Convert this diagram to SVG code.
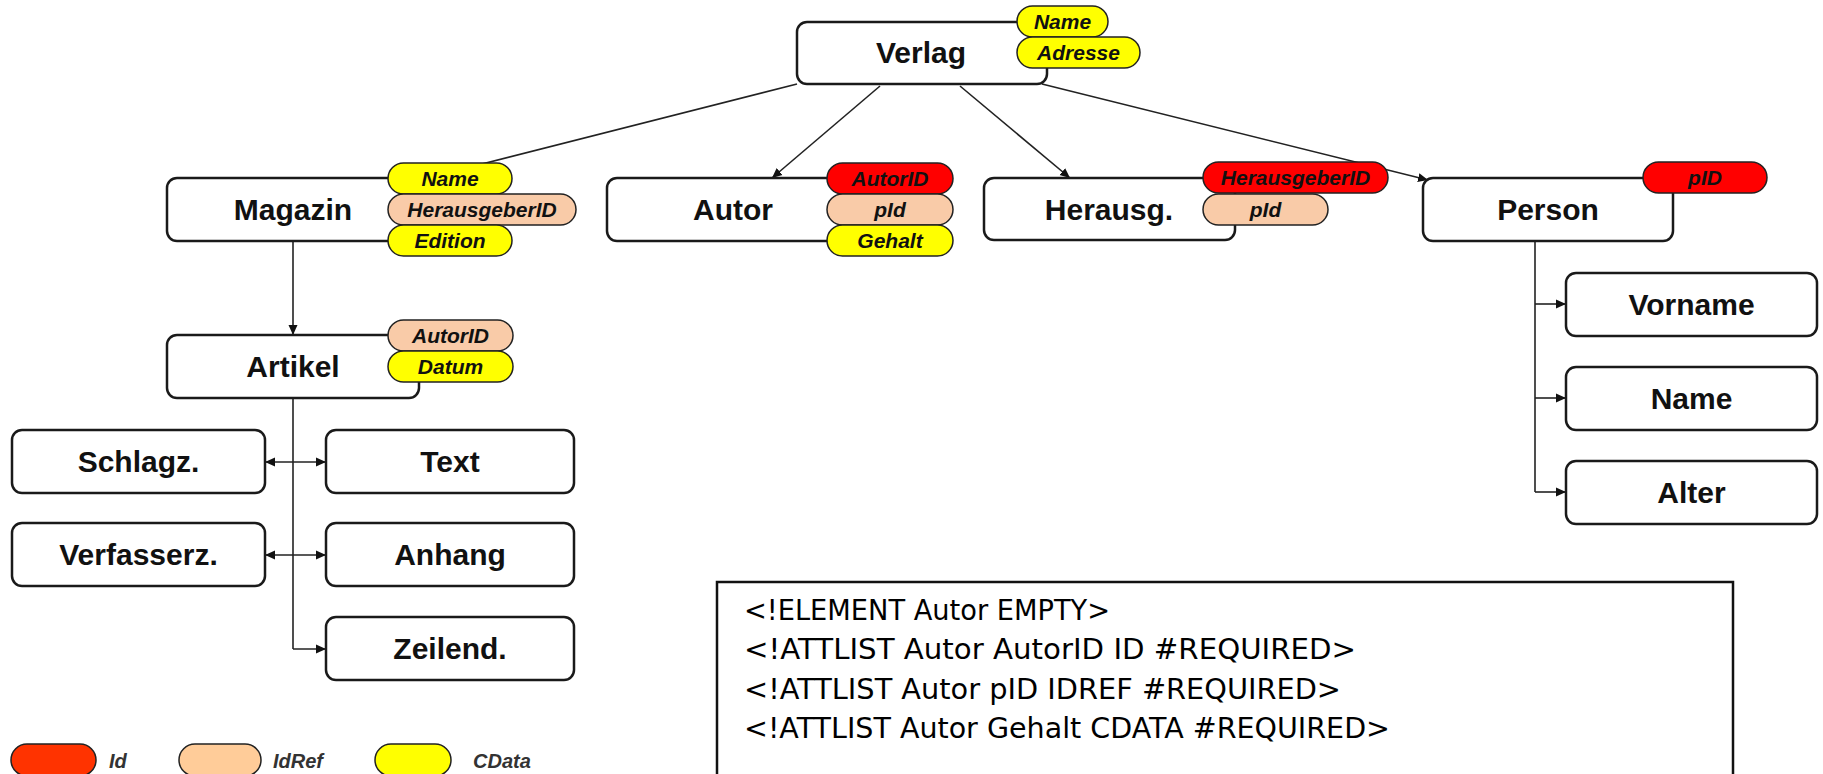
<svg xmlns="http://www.w3.org/2000/svg" width="1823" height="774" viewBox="0 0 1823 774">
  <defs>
    <marker id="arr" viewBox="0 0 10 10" refX="10" refY="5" markerWidth="10" markerHeight="10" markerUnits="userSpaceOnUse" orient="auto-start-reverse">
      <path d="M0,0.5 L10,5 L0,9.5 z" fill="#111"/>
    </marker>
  </defs>
  <style>
    .box { fill: #fff; stroke: #1a1a1a; stroke-width: 2.5; }
    .lbl { font-family: "Liberation Sans", Arial, sans-serif; font-weight: bold; font-size: 30px; fill: #111; text-anchor: middle; }
    .pill { stroke: #222; stroke-width: 1.5; }
    .id { fill: #ff0000; }
    .ref { fill: #f9cba8; }
    .cd { fill: #ffff00; }
    .ptx { font-family: "Liberation Sans", Arial, sans-serif; font-weight: bold; font-style: italic; font-size: 21px; fill: #111; text-anchor: middle; }
    .con { fill: none; stroke: #222; stroke-width: 1.6; }
    .dtd { font-family: "DejaVu Sans", "DejaVu Sans Condensed", sans-serif; font-size: 28px; fill: #000; }
    .leg { font-family: "Liberation Sans", Arial, sans-serif; font-weight: bold; font-style: italic; font-size: 20px; fill: #333; }
  </style>

  <!-- connectors -->
  <g id="connectors">
    <line class="con" x1="797" y1="84" x2="427" y2="178" marker-end="url(#arr)"/>
    <line class="con" x1="880" y1="86" x2="772" y2="178" marker-end="url(#arr)"/>
    <line class="con" x1="960" y1="86" x2="1070" y2="178" marker-end="url(#arr)"/>
    <line class="con" x1="1042" y1="84" x2="1428" y2="180" marker-end="url(#arr)"/>
    <line class="con" x1="293" y1="241" x2="293" y2="335" marker-end="url(#arr)"/>
    <line class="con" x1="293" y1="398" x2="293" y2="649"/>
    <line class="con" x1="293" y1="649" x2="326" y2="649" marker-end="url(#arr)"/>
    <line class="con" x1="265" y1="462" x2="326" y2="462" marker-start="url(#arr)" marker-end="url(#arr)"/>
    <line class="con" x1="265" y1="555" x2="326" y2="555" marker-start="url(#arr)" marker-end="url(#arr)"/>
    <line class="con" x1="1535" y1="241" x2="1535" y2="492"/>
    <line class="con" x1="1535" y1="304" x2="1566" y2="304" marker-end="url(#arr)"/>
    <line class="con" x1="1535" y1="398" x2="1566" y2="398" marker-end="url(#arr)"/>
    <line class="con" x1="1535" y1="492" x2="1566" y2="492" marker-end="url(#arr)"/>
  </g>

  <g id="verlag">
    <rect class="box" x="797" y="22" width="250" height="62" rx="10"/>
    <text class="lbl" x="921" y="63">Verlag</text>
    <rect class="pill cd" x="1017" y="6" width="91" height="31" rx="15.5"/>
    <text class="ptx" x="1062.5" y="29">Name</text>
    <rect class="pill cd" x="1017" y="37" width="123" height="31" rx="15.5"/>
    <text class="ptx" x="1078.5" y="60">Adresse</text>
  </g>

  <g id="magazin">
    <rect class="box" x="167" y="178" width="252" height="63" rx="10"/>
    <text class="lbl" x="293" y="220">Magazin</text>
    <rect class="pill cd" x="388" y="163" width="124" height="31" rx="15.5"/>
    <text class="ptx" x="450" y="186">Name</text>
    <rect class="pill ref" x="388" y="194" width="188" height="31" rx="15.5"/>
    <text class="ptx" x="482" y="217">HerausgeberID</text>
    <rect class="pill cd" x="388" y="225" width="124" height="31" rx="15.5"/>
    <text class="ptx" x="450" y="248">Edition</text>
  </g>

  <g id="autor">
    <rect class="box" x="607" y="178" width="252" height="63" rx="10"/>
    <text class="lbl" x="733" y="220">Autor</text>
    <rect class="pill id" x="827" y="163" width="126" height="31" rx="15.5"/>
    <text class="ptx" x="890" y="186">AutorID</text>
    <rect class="pill ref" x="827" y="194" width="126" height="31" rx="15.5"/>
    <text class="ptx" x="890" y="217">pId</text>
    <rect class="pill cd" x="827" y="225" width="126" height="31" rx="15.5"/>
    <text class="ptx" x="890" y="248">Gehalt</text>
  </g>

  <g id="herausg">
    <rect class="box" x="984" y="178" width="251" height="62" rx="10"/>
    <text class="lbl" x="1109" y="220">Herausg.</text>
    <rect class="pill id" x="1203" y="162" width="185" height="31" rx="15.5"/>
    <text class="ptx" x="1295.5" y="185">HerausgeberID</text>
    <rect class="pill ref" x="1203" y="194" width="125" height="31" rx="15.5"/>
    <text class="ptx" x="1265.5" y="217">pId</text>
  </g>

  <g id="person">
    <rect class="box" x="1423" y="178" width="250" height="63" rx="10"/>
    <text class="lbl" x="1548" y="220">Person</text>
    <rect class="pill id" x="1643" y="162" width="124" height="31" rx="15.5"/>
    <text class="ptx" x="1705" y="185">pID</text>
  </g>

  <g id="artikel">
    <rect class="box" x="167" y="335" width="252" height="63" rx="10"/>
    <text class="lbl" x="293" y="377">Artikel</text>
    <rect class="pill ref" x="388" y="320" width="125" height="31" rx="15.5"/>
    <text class="ptx" x="450.5" y="343">AutorID</text>
    <rect class="pill cd" x="388" y="351" width="125" height="31" rx="15.5"/>
    <text class="ptx" x="450.5" y="374">Datum</text>
  </g>

  <g id="schlagz">
    <rect class="box" x="12" y="430" width="253" height="63" rx="10"/>
    <text class="lbl" x="138.5" y="472">Schlagz.</text>
  </g>
  <g id="text">
    <rect class="box" x="326" y="430" width="248" height="63" rx="10"/>
    <text class="lbl" x="450" y="472">Text</text>
  </g>
  <g id="verfasserz">
    <rect class="box" x="12" y="523" width="253" height="63" rx="10"/>
    <text class="lbl" x="138.5" y="565">Verfasserz.</text>
  </g>
  <g id="anhang">
    <rect class="box" x="326" y="523" width="248" height="63" rx="10"/>
    <text class="lbl" x="450" y="565">Anhang</text>
  </g>
  <g id="zeilend">
    <rect class="box" x="326" y="617" width="248" height="63" rx="10"/>
    <text class="lbl" x="450" y="659">Zeilend.</text>
  </g>

  <g id="vorname">
    <rect class="box" x="1566" y="273" width="251" height="63" rx="10"/>
    <text class="lbl" x="1691.5" y="315">Vorname</text>
  </g>
  <g id="name">
    <rect class="box" x="1566" y="367" width="251" height="63" rx="10"/>
    <text class="lbl" x="1691.5" y="409">Name</text>
  </g>
  <g id="alter">
    <rect class="box" x="1566" y="461" width="251" height="63" rx="10"/>
    <text class="lbl" x="1691.5" y="503">Alter</text>
  </g>

  <!-- DTD excerpt -->
  <g id="dtd">
    <rect x="717" y="582" width="1016" height="260" fill="#fff" stroke="#111" stroke-width="2.5"/>
    <text class="dtd" x="744" y="620" textLength="366" lengthAdjust="spacingAndGlyphs">&lt;!ELEMENT Autor EMPTY&gt;</text>
    <text class="dtd" x="744" y="659" textLength="612" lengthAdjust="spacingAndGlyphs">&lt;!ATTLIST Autor AutorID ID #REQUIRED&gt;</text>
    <text class="dtd" x="744" y="699" textLength="597" lengthAdjust="spacingAndGlyphs">&lt;!ATTLIST Autor pID IDREF #REQUIRED&gt;</text>
    <text class="dtd" x="744" y="738" textLength="646" lengthAdjust="spacingAndGlyphs">&lt;!ATTLIST Autor Gehalt CDATA #REQUIRED&gt;</text>
  </g>

  <!-- legend -->
  <g id="legend">
    <rect class="pill" x="11" y="744" width="85" height="32" rx="16" fill="#ff3300"/>
    <text class="leg" x="109" y="768">Id</text>
    <rect class="pill" x="179" y="744" width="82" height="32" rx="16" fill="#ffcc99"/>
    <text class="leg" x="273" y="768">IdRef</text>
    <rect class="pill" x="375" y="744" width="76" height="32" rx="16" fill="#ffff00"/>
    <text class="leg" x="473" y="768">CData</text>
  </g>
</svg>
